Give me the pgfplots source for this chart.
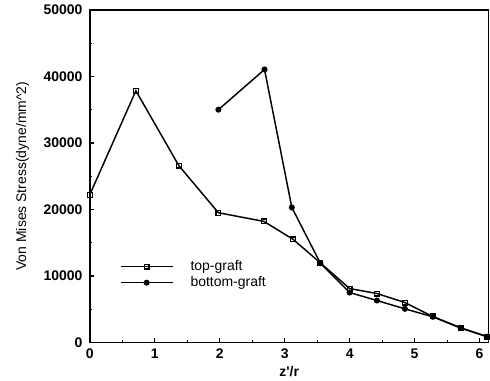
\documentclass[border=0pt]{standalone}
\usepackage{pgfplots}
\pgfplotsset{compat=1.18}
\usepackage{fontspec}
\setmainfont{Liberation Sans}
\begin{document}
\begin{tikzpicture}
\useasboundingbox (-67.5pt,-28.5pt) rectangle (301pt,257.5pt);
\begin{axis}[
  scale only axis,
  width=300pt, height=250pt,
  at={(0pt,0pt)}, anchor=south west,
  xmin=0, xmax=6.14, ymin=0, ymax=50000,
  xtick={0,1,2,3,4,5,6},
  minor xtick={0.5,1.5,2.5,3.5,4.5,5.5},
  ytick={0,10000,20000,30000,40000,50000},
  minor ytick={5000,15000,25000,35000,45000},
  scaled y ticks=false,
  tick pos=left,
  tick align=inside,
  major tick length=3pt, minor tick length=2pt,
  axis line style={line width=1.2pt},
  every tick/.style={line width=0.9pt, black},
  /pgf/number format/assume math mode=true,
  /pgf/number format/1000 sep={},
  tick label style={font=\fontsize{10.5}{12}\selectfont\bfseries},
  xticklabel style={yshift=-1pt},
  yticklabel style={xshift=-2pt},
  xlabel={\bfseries z\textquotesingle/r},
  xlabel style={font=\fontsize{10.5}{12}\selectfont, yshift=1pt},
  ylabel={Von Mises Stress(dyne/mm\textasciicircum 2)},
  ylabel style={font=\fontsize{10.5}{12}\selectfont, yshift=4pt},
  legend style={draw=none, fill=none, at={(rel axis cs:0.075,0.255)}, anchor=north west,
    font=\fontsize{10.5}{12}\selectfont, row sep=-1pt, inner sep=0pt,
    /tikz/every odd column/.style={column sep=11pt}},
  legend cell align=left,
  legend image code/.code={%
    \draw[#1, mark repeat=2, mark phase=2] plot coordinates {(0pt,0pt) (19.5pt,0pt) (39pt,0pt)};},
]
\addplot[black, line width=1.1pt, mark=square, mark size=1.8pt, mark options={line width=0.9pt, fill=white}]
coordinates {
(0,22200) (0.71,37850) (1.37,26600) (1.98,19500) (2.68,18200) (3.13,15500)
(3.55,11950) (4.0,8100) (4.42,7350) (4.85,6000) (5.28,3900) (5.71,2200) (6.12,850)
};
\addlegendentry{top-graft}
\addplot[black, line width=1.1pt, mark=*, mark size=1.7pt]
coordinates {
(1.98,35000) (2.69,41050) (3.11,20300) (3.55,11900) (4.0,7500) (4.42,6300)
(4.85,5050) (5.28,3850) (5.71,2150) (6.12,850)
};
\addlegendentry{bottom-graft}
\end{axis}
\end{tikzpicture}
\end{document}
